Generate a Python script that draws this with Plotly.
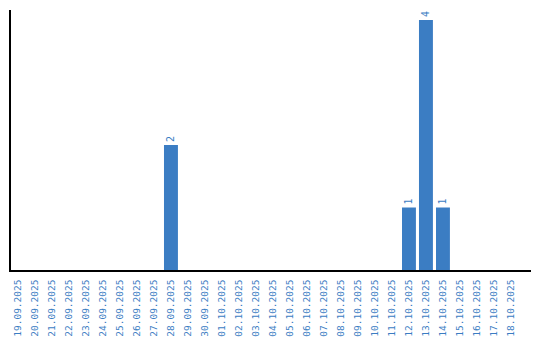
import plotly.graph_objects as go

dates = ["19.09.2025","20.09.2025","21.09.2025","22.09.2025","23.09.2025","24.09.2025",
         "25.09.2025","26.09.2025","27.09.2025","28.09.2025","29.09.2025","30.09.2025",
         "01.10.2025","02.10.2025","03.10.2025","04.10.2025","05.10.2025","06.10.2025",
         "07.10.2025","08.10.2025","09.10.2025","10.10.2025","11.10.2025","12.10.2025",
         "13.10.2025","14.10.2025","15.10.2025","16.10.2025","17.10.2025","18.10.2025"]
counts = [0,0,0,0,0,0,0,0,0,2,0,0,0,0,0,0,0,0,0,0,0,0,0,1,4,1,0,0,0,0]

blue = "#3b7dc3"
labels = [str(v) if v > 0 else "" for v in counts]

fig = go.Figure(go.Bar(
    x=dates, y=counts, marker=dict(color=blue, line=dict(width=0)),
    text=labels, textposition="outside", textangle=-90,
    textfont=dict(family="DejaVu Sans Mono", size=10, color=blue),
    cliponaxis=False, hoverinfo="skip",
))
fig.update_layout(
    width=540, height=340, margin=dict(l=11, r=9, t=10, b=70, autoexpand=False),
    paper_bgcolor="white", plot_bgcolor="white", bargap=0.18, showlegend=False,
    uniformtext=dict(minsize=8, mode="show"),
)
fig.update_xaxes(type="category", range=[-0.41, 30.18], tickangle=-90, showline=True,
                 linecolor="black", linewidth=1.5, ticks="", showgrid=False,
                 ticklabelstandoff=4, automargin=False,
                 tickfont=dict(family="DejaVu Sans Mono", size=9.5, color=blue))
fig.update_yaxes(range=[0, 4.16], showline=True, linecolor="black", linewidth=1.5,
                 showticklabels=False, ticks="", showgrid=False, zeroline=False,
                 automargin=False)
fig.write_html("out.html")
